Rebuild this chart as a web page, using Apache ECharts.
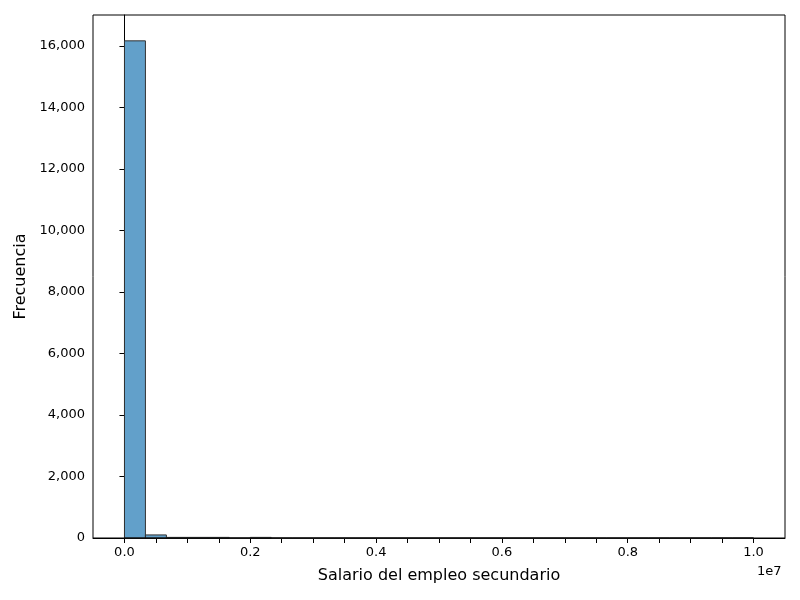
<!DOCTYPE html>
<html><head><meta charset="utf-8">
<script src="https://cdn.jsdelivr.net/npm/echarts@6/dist/echarts.min.js"></script>
<style>body{margin:0}#main{width:800px;height:600px}</style>
</head><body><div id="main"></div>
<script>
var binStart = 0, binEnd = 1e7, binCount = 30;
var counts = [16160, 100, 20, 20, 20, 0, 20, 0, 0, 0, 0, 0, 0, 0, 0,
              0, 0, 0, 0, 0, 0, 0, 0, 0, 0, 0, 0, 0, 0, 1];
var xTicks = [0, 0.2e7, 0.4e7, 0.6e7, 0.8e7, 1e7];

var w = (binEnd - binStart) / binCount;
var data = counts.map(function (c, i) { return [binStart + i * w, binStart + (i + 1) * w, c]; });

var chart = echarts.init(document.getElementById('main'));
chart.setOption({
  animation: false,
  grid: {left: 93, right: 15, top: 15, bottom: 62},
  xAxis: {
    type: 'value', min: -0.05e7, max: 1.05e7, interval: 0.05e7,
    name: 'Salario del empleo secundario', nameLocation: 'middle', nameGap: 30,
    nameTextStyle: {fontSize: 16, color: '#000', fontFamily: 'DejaVu Sans'},
    axisLine: {lineStyle: {color: '#000'}},
    axisTick: {show: true, length: 5, lineStyle: {color: '#000'},
      interval: function (i, v) { return xTicks.some(function (t) { return Math.abs(t - v) < 1; }); }},
    axisLabel: {color: '#000', fontSize: 13, fontFamily: 'DejaVu Sans', showMinLabel: false, showMaxLabel: false,
      formatter: function (v) {
        return xTicks.some(function (t) { return Math.abs(t - v) < 1; }) ? (v / 1e7).toFixed(1) : '';
      }},
    splitLine: {show: false}
  },
  yAxis: {
    type: 'value', min: 0, max: 17000, interval: 2000,
    name: 'Frecuencia', nameLocation: 'middle', nameGap: 62,
    nameTextStyle: {fontSize: 16, color: '#000', fontFamily: 'DejaVu Sans'},
    axisLine: {show: true, lineStyle: {color: '#000'}},
    axisTick: {show: true, length: 5, lineStyle: {color: '#000'}},
    axisLabel: {color: '#000', fontSize: 13, fontFamily: 'DejaVu Sans', showMaxLabel: false},
    splitLine: {show: false}
  },
  graphic: [
    {type: 'rect', shape: {x: 93, y: 15, width: 692, height: 523}, style: {fill: 'none', stroke: '#000', lineWidth: 1}, z: 10},
    {type: 'text', left: 757, top: 565, style: {text: '1e7', fontSize: 13, fill: '#000', fontFamily: 'DejaVu Sans'}}
  ],
  series: [{
    type: 'custom',
    data: data,
    renderItem: function (params, api) {
      var p0 = api.coord([api.value(0), api.value(2)]);
      var p1 = api.coord([api.value(1), 0]);
      return {type: 'rect', shape: {x: p0[0], y: p0[1], width: p1[0] - p0[0], height: p1[1] - p0[1]},
        style: {fill: 'rgba(31,119,180,0.7)', stroke: '#333', lineWidth: 1}};
    }
  }]
});
</script></body></html>
